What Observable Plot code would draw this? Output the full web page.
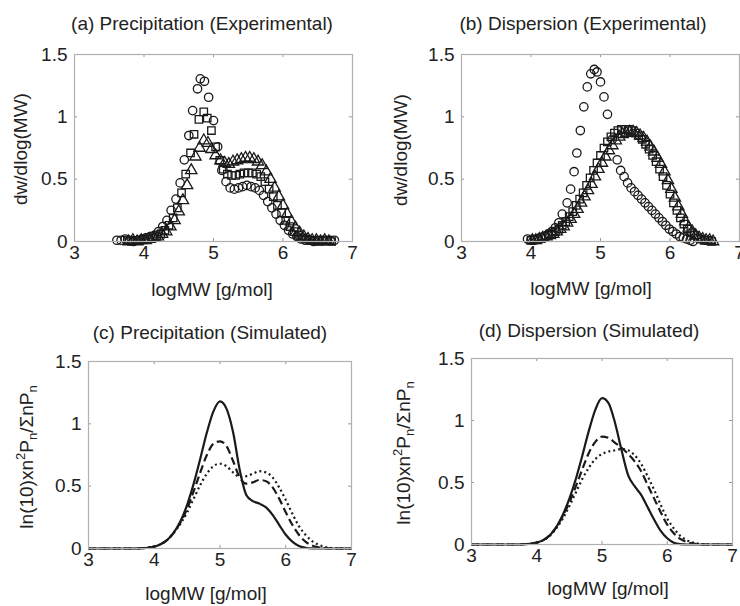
<!DOCTYPE html>
<html>
<head>
<meta charset="utf-8">
<script src="https://cdn.jsdelivr.net/npm/d3@7"></script>
<script src="https://cdn.jsdelivr.net/npm/@observablehq/plot@0.6"></script>
<style>
  html, body { margin: 0; padding: 0; background: #fff; }
  #root { position: relative; width: 740px; height: 606px; overflow: hidden;
          font-family: "Liberation Sans", Arial, sans-serif; color: #222; }
  .lbl { position: absolute; white-space: nowrap; font-size: 19px; line-height: 1; transform: translate(-50%, -50%); }
  .rot { transform: translate(-50%, -50%) rotate(-90deg); }
  .lbl sup, .lbl sub { font-size: 13px; line-height: 0; }
  .panel { position: absolute; }
</style>
</head>
<body>
<div id="root"></div>
<script>
// ---------- tick labels ----------
const xTicks = [3, 4, 5, 6, 7];
const yTicks = [0, 0.5, 1, 1.5];

// ---------- panel texts ----------
const titles = ["(a) Precipitation (Experimental)", "(b) Dispersion (Experimental)",
                "(c) Precipitation (Simulated)", "(d) Dispersion (Simulated)"];
const xLabel = "logMW [g/mol]";
const yLabelExp = "dw/dlog(MW)";
const yLabelSim = "ln(10)xn<sup>2</sup>P<sub>n</sub>/ΣnP<sub>n</sub>";

// ---------- (a) Precipitation, experimental: [logMW, dw/dlog(MW)] ----------
const aCircles = [[3.61,0.01],[3.67,0.01],[3.73,0.02],[3.79,0.01],[3.85,0.00],[3.91,0.01],[3.97,0.02],
  [4.03,0.03],[4.09,0.04],[4.15,0.05],[4.21,0.08],[4.27,0.12],[4.33,0.17],[4.39,0.25],
  [4.46,0.34],[4.52,0.47],[4.58,0.655],[4.645,0.85],[4.70,1.05],[4.77,1.225],[4.81,1.305],
  [4.87,1.285],[4.93,1.157],[5.00,0.97],[5.06,0.76],[5.12,0.57],[5.18,0.48],[5.24,0.43],
  [5.30,0.42],[5.36,0.43],[5.42,0.44],[5.48,0.45],[5.54,0.44],[5.60,0.43],[5.66,0.41],
  [5.72,0.37],[5.78,0.32],[5.84,0.27],[5.90,0.22],[5.96,0.17],[6.02,0.13],[6.08,0.09],
  [6.14,0.06],[6.20,0.04],[6.26,0.02],[6.32,0.01],[6.38,0.01],[6.44,0.00],[6.50,0.01],
  [6.56,0.01],[6.62,0.01],[6.68,0.01],[6.74,0.01]];
const aSquares = [[3.76,0.01],[3.82,0.00],[3.88,0.01],[3.94,0.01],[4.00,0.02],[4.06,0.02],[4.12,0.03],
  [4.18,0.04],[4.24,0.06],[4.30,0.09],[4.36,0.13],[4.42,0.19],[4.48,0.27],[4.54,0.39],[4.60,0.54],
  [4.67,0.71],[4.72,0.86],[4.79,0.98],[4.86,1.04],[4.91,0.99],[4.97,0.89],[5.03,0.76],[5.09,0.65],
  [5.14,0.58],[5.20,0.54],[5.26,0.53],[5.32,0.53],[5.38,0.54],[5.44,0.55],[5.50,0.55],[5.56,0.55],
  [5.62,0.54],[5.68,0.52],[5.74,0.48],[5.80,0.42],[5.86,0.36],[5.92,0.29],[5.98,0.23],[6.04,0.17],
  [6.10,0.12],[6.16,0.08],[6.22,0.05],[6.28,0.03],[6.34,0.02],[6.40,0.01],[6.46,0.01],[6.52,0.00],
  [6.58,0.01],[6.64,0.01],[6.70,0.00]];
const aTriangles = [[3.78,0.00],[3.84,0.01],[3.90,0.00],[3.96,0.01],[4.02,0.01],[4.08,0.02],[4.14,0.03],
  [4.20,0.04],[4.26,0.06],[4.32,0.08],[4.38,0.12],[4.44,0.17],[4.50,0.24],[4.56,0.33],[4.62,0.45],
  [4.68,0.57],[4.74,0.68],[4.80,0.75],[4.86,0.81],[4.92,0.79],[4.97,0.74],[5.03,0.69],[5.10,0.65],
  [5.16,0.63],[5.22,0.62],[5.28,0.64],[5.34,0.65],[5.40,0.66],[5.46,0.67],[5.52,0.67],[5.58,0.66],
  [5.64,0.64],[5.70,0.61],[5.76,0.56],[5.82,0.50],[5.88,0.43],[5.94,0.36],[6.00,0.29],[6.06,0.22],
  [6.12,0.16],[6.18,0.11],[6.24,0.07],[6.30,0.04],[6.36,0.02],[6.42,0.01],[6.48,0.01],[6.54,0.00],
  [6.60,0.01],[6.66,0.00]];

// ---------- (b) Dispersion, experimental ----------
const bCircles = [[3.95,0.02],[4.00,0.01],[4.05,0.01],[4.10,0.02],[4.15,0.03],[4.20,0.04],[4.25,0.06],
  [4.30,0.08],[4.35,0.11],[4.40,0.15],[4.45,0.22],[4.52,0.31],[4.57,0.42],[4.62,0.56],[4.66,0.71],
  [4.71,0.89],[4.76,1.08],[4.81,1.24],[4.86,1.345],[4.91,1.38],[4.95,1.36],[5.00,1.28],[5.05,1.16],
  [5.10,1.02],[5.17,0.82],[5.24,0.655],[5.29,0.57],[5.34,0.52],[5.39,0.47],[5.44,0.43],[5.49,0.40],
  [5.54,0.37],[5.59,0.34],[5.64,0.31],[5.69,0.28],[5.74,0.25],[5.79,0.22],[5.84,0.19],[5.89,0.16],
  [5.94,0.13],[5.99,0.10],[6.04,0.08],[6.09,0.06],[6.14,0.04],[6.19,0.03],[6.24,0.02],[6.29,0.01],
  [6.33,0.00]];
const bSquares = [[4.00,0.01],[4.05,0.02],[4.10,0.02],[4.15,0.03],[4.20,0.04],[4.25,0.05],[4.30,0.06],
  [4.35,0.08],[4.40,0.10],[4.45,0.13],[4.50,0.16],[4.55,0.20],[4.60,0.24],[4.65,0.29],[4.70,0.34],
  [4.75,0.39],[4.80,0.45],[4.85,0.51],[4.90,0.57],[4.95,0.63],[5.00,0.69],[5.05,0.75],[5.10,0.80],
  [5.15,0.84],[5.20,0.87],[5.25,0.89],[5.30,0.90],[5.35,0.90],[5.40,0.90],[5.45,0.89],[5.50,0.87],
  [5.55,0.85],[5.60,0.82],[5.65,0.78],[5.70,0.74],[5.75,0.69],[5.80,0.64],[5.85,0.58],[5.90,0.52],
  [5.95,0.45],[6.00,0.38],[6.05,0.31],[6.10,0.25],[6.15,0.19],[6.20,0.14],[6.25,0.10],[6.30,0.07],
  [6.35,0.05],[6.40,0.03],[6.45,0.02],[6.50,0.01],[6.55,0.01],[6.60,0.00]];
const bTriangles = [[4.02,0.01],[4.07,0.01],[4.12,0.02],[4.17,0.03],[4.22,0.04],[4.27,0.05],[4.32,0.06],
  [4.37,0.08],[4.42,0.10],[4.47,0.12],[4.52,0.15],[4.57,0.18],[4.62,0.22],[4.67,0.26],[4.72,0.31],
  [4.77,0.36],[4.82,0.41],[4.87,0.46],[4.92,0.52],[4.97,0.58],[5.02,0.63],[5.07,0.68],[5.12,0.73],
  [5.17,0.77],[5.22,0.81],[5.27,0.84],[5.32,0.86],[5.37,0.87],[5.42,0.88],[5.47,0.88],[5.52,0.87],
  [5.57,0.85],[5.62,0.83],[5.67,0.80],[5.72,0.76],[5.77,0.72],[5.82,0.67],[5.87,0.62],[5.92,0.56],
  [5.97,0.49],[6.02,0.42],[6.07,0.35],[6.12,0.28],[6.17,0.22],[6.22,0.16],[6.27,0.11],[6.32,0.08],
  [6.37,0.05],[6.42,0.03],[6.47,0.02],[6.52,0.01],[6.57,0.01],[6.62,0.00]];

// ---------- (c),(d) simulated curves ----------
const simX = [3.0,3.1,3.2,3.3,3.4,3.5,3.6,3.7,3.8,3.9,4.0,4.1,4.2,4.3,4.4,4.5,4.6,4.7,4.8,4.9,5.0,
  5.1,5.2,5.3,5.4,5.5,5.6,5.7,5.8,5.9,6.0,6.1,6.2,6.3,6.4,6.5,6.6,6.7,6.8,6.9,7.0];
const cSolid  = [0,0,0,0,0,0,0,0,0.002,0.006,0.015,0.035,0.07,0.13,0.22,0.35,0.52,0.72,0.93,1.10,1.18,
  1.12,0.93,0.63,0.43,0.38,0.36,0.33,0.27,0.19,0.11,0.055,0.02,0.006,0.001,0,0,0,0,0,0];
const cDashed = [0,0,0,0,0,0,0,0,0.002,0.006,0.015,0.035,0.07,0.13,0.21,0.32,0.46,0.61,0.75,0.84,0.86,
  0.82,0.70,0.57,0.52,0.53,0.55,0.54,0.49,0.40,0.29,0.19,0.11,0.055,0.025,0.01,0.003,0,0,0,0];
const cDotted = [0,0,0,0,0,0,0,0,0.002,0.006,0.015,0.035,0.07,0.13,0.20,0.29,0.40,0.51,0.60,0.66,0.68,
  0.66,0.61,0.575,0.58,0.60,0.62,0.61,0.57,0.49,0.39,0.28,0.18,0.11,0.06,0.03,0.012,0.004,0.001,0,0];
const dSolid  = [0,0,0,0,0,0,0,0,0.002,0.006,0.015,0.035,0.075,0.14,0.24,0.37,0.53,0.72,0.92,1.09,1.18,
  1.14,0.98,0.76,0.56,0.47,0.40,0.30,0.20,0.11,0.05,0.015,0.003,0,0,0,0,0,0,0,0];
const dDashed = [0,0,0,0,0,0,0,0,0.002,0.006,0.015,0.035,0.075,0.14,0.23,0.34,0.47,0.61,0.74,0.83,0.87,
  0.86,0.82,0.78,0.73,0.67,0.59,0.48,0.37,0.26,0.16,0.09,0.045,0.02,0.008,0.002,0,0,0,0,0];
const dDotted = [0,0,0,0,0,0,0,0,0.002,0.006,0.015,0.035,0.07,0.13,0.21,0.31,0.42,0.53,0.62,0.69,0.73,
  0.75,0.76,0.77,0.76,0.72,0.65,0.55,0.44,0.32,0.21,0.13,0.07,0.035,0.015,0.005,0.001,0,0,0,0];

// ---------- helpers ----------
const root = document.getElementById("root");
const INK = "#1a1a1a";
const pts = arr => arr.map(([x, y]) => ({x, y}));
const curve = ys => simX.map((x, i) => ({x, y: ys[i]}));

function label(html, x, y, rotate) {
  const d = document.createElement("div");
  d.className = "lbl" + (rotate ? " rot" : "");
  d.style.left = x + "px";
  d.style.top = y + "px";
  d.innerHTML = html;
  root.appendChild(d);
}

function panel(cfg, marks) {
  const fmt = d => String(d);
  const plot = Plot.plot({
    width: cfg.w, height: cfg.h,
    marginLeft: cfg.ml, marginRight: cfg.mr, marginTop: cfg.mt, marginBottom: cfg.mb,
    x: {domain: [3, 7]},
    y: {domain: [0, 1.5]},
    style: {fontFamily: '"Liberation Sans", Arial, sans-serif', fontSize: "19px", color: "#222", background: "transparent"},
    marks: [
      Plot.axisX(xTicks, {tickSize: 0, tickPadding: 4, label: null, tickFormat: fmt, fontSize: 19}),
      Plot.axisY(yTicks, {tickSize: 0, tickPadding: 7, label: null, tickFormat: fmt, fontSize: 19}),
      // inward MATLAB-style ticks
      Plot.ruleX(xTicks, {y1: 0, y2: 0.025, stroke: "#999", strokeWidth: 1}),
      Plot.ruleX(xTicks, {y1: 1.5, y2: 1.475, stroke: "#999", strokeWidth: 1}),
      Plot.ruleY(yTicks, {x1: 3, x2: 3.045, stroke: "#999", strokeWidth: 1}),
      Plot.ruleY(yTicks, {x1: 7, x2: 6.955, stroke: "#999", strokeWidth: 1}),
      ...marks,
      Plot.frame({stroke: "#b0b0b0", strokeWidth: 1.2})
    ]
  });
  plot.classList.add("panel");
  plot.style.left = cfg.left + "px";
  plot.style.top = cfg.top + "px";
  root.appendChild(plot);
}

const dotOpts = sym => ({x: "x", y: "y", symbol: sym, r: 4.2, fill: "none", stroke: INK, strokeWidth: 1.3});
const lineOpts = dash => ({x: "x", y: "y", stroke: INK, strokeWidth: 2.2, curve: "monotone-x", strokeDasharray: dash, strokeLinecap: "butt"});

// (a)
panel({left: 0, top: 0, w: 370, h: 300, ml: 74, mr: 18, mt: 54, mb: 59}, [
  Plot.dot(pts(aTriangles), dotOpts("triangle")),
  Plot.dot(pts(aSquares), dotOpts("square")),
  Plot.dot(pts(aCircles), dotOpts("circle"))
]);
// (b)
panel({left: 370, top: 0, w: 370, h: 300, ml: 91, mr: 1, mt: 54, mb: 59}, [
  Plot.dot(pts(bTriangles), dotOpts("triangle")),
  Plot.dot(pts(bSquares), dotOpts("square")),
  Plot.dot(pts(bCircles), dotOpts("circle"))
]);
// (c)
panel({left: 0, top: 300, w: 370, h: 306, ml: 88, mr: 19, mt: 61, mb: 58}, [
  Plot.line(curve(cDotted), lineOpts("2,3")),
  Plot.line(curve(cDashed), lineOpts("8,4")),
  Plot.line(curve(cSolid), lineOpts(null))
]);
// (d)
panel({left: 370, top: 300, w: 370, h: 306, ml: 101, mr: 8, mt: 58, mb: 62}, [
  Plot.line(curve(dDotted), lineOpts("2,3")),
  Plot.line(curve(dDashed), lineOpts("8,4")),
  Plot.line(curve(dSolid), lineOpts(null))
]);

// titles
label(titles[0], 202, 23);
label(titles[1], 583, 23);
label(titles[2], 210, 332);
label(titles[3], 589, 330);
// x labels
label(xLabel, 212, 289);
label(xLabel, 591, 288);
label(xLabel, 206, 593);
label(xLabel, 608, 588);
// y labels
label(yLabelExp, 20, 149, true);
label(yLabelExp, 400, 150, true);
label(yLabelSim, 26, 457, true);
label(yLabelSim, 403, 453, true);
</script>
</body>
</html>
